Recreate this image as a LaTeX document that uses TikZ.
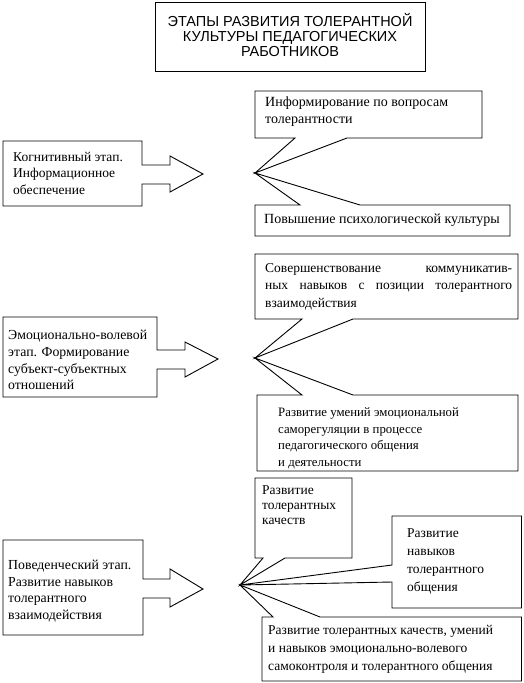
\documentclass[tikz,border=0pt]{standalone}
\usepackage{fontspec}
\setmainfont{Liberation Serif}
\newfontfamily\titlefont{Liberation Sans}
\begin{document}
\begin{tikzpicture}[x=1pt,y=-1pt,
  shp/.style={draw=black,line width=0.9pt,fill=white,line join=miter},
  txt/.style={anchor=north west,inner sep=0pt,align=left,font=\fontsize{13.5}{16.3}\selectfont},
  ttl/.style={anchor=center,inner sep=0pt,align=center,font=\titlefont\fontsize{14.5}{15}\selectfont}]
\useasboundingbox (0,0) rectangle (523,683);

% title
\draw[shp] (155,2) rectangle (425,71);
\node[ttl] (title) at (290,35) {ЭТАПЫ РАЗВИТИЯ ТОЛЕРАНТНОЙ\\КУЛЬТУРЫ ПЕДАГОГИЧЕСКИХ\\РАБОТНИКОВ};

% ---------- section 1 ----------
\draw[shp] (3,141) -- (142,141) -- (142,165) -- (170,165) -- (170,156) -- (203,174)
  -- (170,192) -- (170,184) -- (142,184) -- (142,206) -- (3,206) -- cycle;
\node[txt] (s1l) at (13,152) {Когнитивный этап.\\Информационное\\обеспечение};

\draw[shp] (255,91) -- (482,91) -- (482,138) -- (347,138) -- (255,173) -- (295,138) -- (255,138) -- cycle;
\node[txt,font=\fontsize{14}{16.3}\selectfont] (s1a) at (265,97) {Информирование по вопросам\\толерантности};

\draw[shp] (255,205) -- (300,205) -- (255,173) -- (360,205) -- (510,205) -- (510,236) -- (255,236) -- cycle;
\node[txt,font=\fontsize{14}{16.3}\selectfont] (s1b) at (264,214) {Повышение психологической культуры};

% ---------- section 2 ----------
\draw[shp] (3,317) -- (157,317) -- (157,350) -- (185,350) -- (185,342) -- (218,359)
  -- (185,377) -- (185,369) -- (157,369) -- (157,397) -- (3,397) -- cycle;
\node[txt,font=\fontsize{13.8}{16.7}\selectfont] (s2l) at (8,330) {Эмоционально-волевой\\этап. Формирование\\субъект-субъектных\\отношений};

\draw[shp] (255,254) -- (518,254) -- (518,319) -- (353,319) -- (255,358) -- (302,319) -- (255,319) -- cycle;
\node[txt,font=\fontsize{13.5}{17.5}\selectfont] (s2a) at (265,263) {\hbox to 247pt{Совершенствование\hfill коммуникатив-}\\
\hbox to 247pt{ных\hfill навыков\hfill с\hfill позиции\hfill толерантного}\\взаимодействия};

\draw[shp] (257,395) -- (302,395) -- (255,358) -- (353,395) -- (518,395) -- (518,471) -- (257,471) -- cycle;
\node[txt,font=\fontsize{12.8}{16.5}\selectfont] (s2b) at (278,408) {Развитие умений эмоциональной\\саморегуляции в процессе\\педагогического общения\\и деятельности};

% ---------- section 3 ----------
\draw[shp] (3,540) -- (143,540) -- (143,579) -- (170,579) -- (170,569) -- (203,589)
  -- (170,607) -- (170,598) -- (143,598) -- (143,635) -- (3,635) -- cycle;
\node[txt,font=\fontsize{13.8}{16.5}\selectfont] (s3l) at (8,560) {Поведенческий этап.\\Развитие навыков\\толерантного\\взаимодействия};

\draw[shp] (255,478) -- (352,478) -- (352,558) -- (285,558) -- (240,585) -- (263,558) -- (255,558) -- cycle;
\node[txt,font=\fontsize{13.5}{15}\selectfont] (s3a) at (262,485) {Развитие\\толерантных\\качеств};

\draw[shp] (392,516) -- (521.5,516) -- (521.5,608) -- (392,608) -- (392,582) -- (240,585) -- (392,565) -- cycle;
\node[txt,font=\fontsize{13.5}{18}\selectfont] (s3b) at (407,528) {Развитие\\навыков\\толерантного\\общения};

\draw[shp] (262,617) -- (273,617) -- (240,585) -- (320,617) -- (521.5,617) -- (521.5,681) -- (262,681) -- cycle;
\node[txt,font=\fontsize{13.5}{18}\selectfont] (s3c) at (268,625) {Развитие толерантных качеств, умений\\и навыков эмоционально-волевого\\самоконтроля и толерантного общения};
\end{tikzpicture}
\end{document}
